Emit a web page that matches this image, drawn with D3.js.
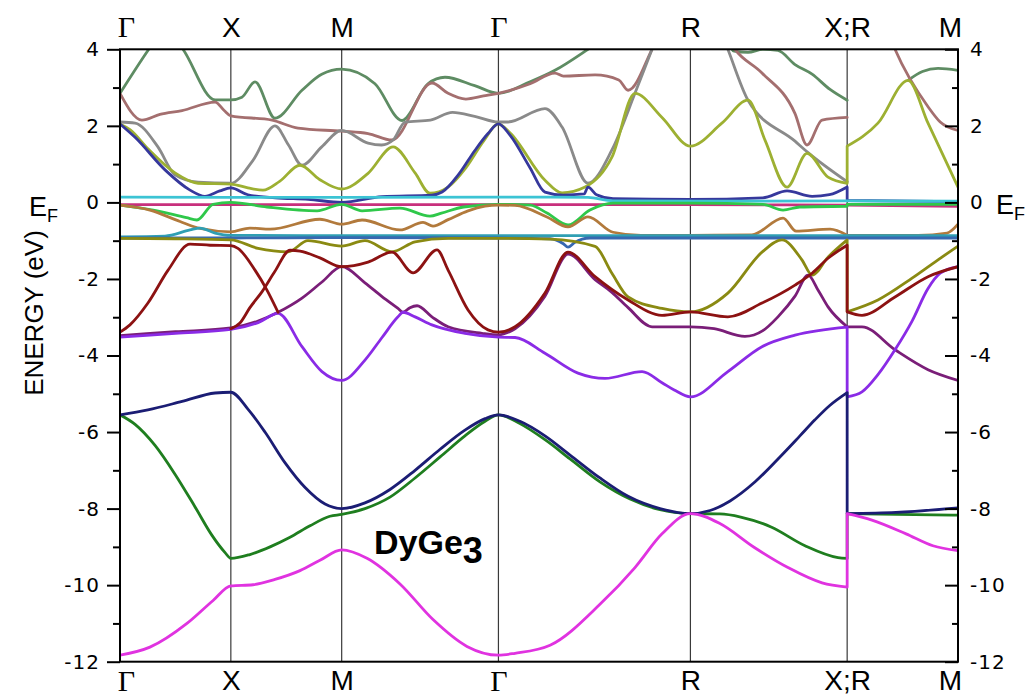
<!DOCTYPE html>
<html><head><meta charset="utf-8">
<script src="https://cdn.jsdelivr.net/npm/d3@7"></script>
<style>body{margin:0;background:#fff}svg{display:block}</style>
</head><body><svg id="c" width="1031" height="696"></svg>
<script>
// ---- data ----
const kPointLabels = ["Γ","X","M","Γ","R","X;R","M"];
const kPointPositions = [0, 0.5, 1.0, 1.7071, 2.5731, 3.2802, 3.7802];
const energyMajorTicks = [4,2,0,-2,-4,-6,-8,-10,-12];
const energyMinorTicks = [3,1,-1,-3,-5,-7,-9,-11];
const compoundName = "DyGe";
const compoundSub = "3";

const bandMagenta = [[0,-11.83],[0.135,-11.62],[0.302,-11.0],[0.420,-10.4],[0.5,-10.02],[0.600,-9.99],[0.699,-9.85],[0.812,-9.62],[0.902,-9.35],[1.0,-9.08],[1.114,-9.3],[1.263,-9.97],[1.412,-10.9],[1.565,-11.6],[1.7071,-11.83],[1.782,-11.78],[1.940,-11.57],[2.165,-10.5],[2.323,-9.54],[2.445,-8.66],[2.5731,-8.13],[2.706,-8.39],[2.860,-9.01],[3.013,-9.54],[3.167,-9.94],[3.2802,-10.05],[3.2802,-8.13],[3.392,-8.3],[3.546,-8.66],[3.667,-8.97],[3.7802,-9.1]];
const bandGreenDark = [[0,-5.55],[0.068,-5.8],[0.158,-6.35],[0.248,-7.1],[0.338,-7.95],[0.415,-8.7],[0.474,-9.15],[0.5,-9.3],[0.586,-9.2],[0.677,-9.0],[0.767,-8.75],[0.857,-8.45],[0.947,-8.2],[1.0,-8.15],[1.105,-8.0],[1.218,-7.7],[1.331,-7.2],[1.444,-6.65],[1.556,-6.1],[1.647,-5.72],[1.7071,-5.55],[1.804,-5.78],[1.917,-6.2],[2.030,-6.7],[2.165,-7.3],[2.301,-7.75],[2.436,-8.03],[2.5731,-8.13],[2.706,-8.14],[2.8,-8.22],[2.937,-8.48],[3.090,-8.97],[3.239,-9.28],[3.2802,-9.3],[3.2802,-8.13],[3.5,-8.15],[3.7802,-8.17]];
const bandNavy = [[0,-5.55],[0.126,-5.42],[0.280,-5.2],[0.429,-4.98],[0.5,-4.96],[0.577,-5.4],[0.654,-6.0],[0.744,-6.8],[0.835,-7.45],[0.925,-7.88],[1.0,-8.0],[1.105,-7.85],[1.218,-7.5],[1.331,-7.0],[1.444,-6.45],[1.556,-5.95],[1.647,-5.65],[1.7071,-5.55],[1.804,-5.72],[1.917,-6.1],[2.030,-6.6],[2.165,-7.2],[2.292,-7.68],[2.436,-8.0],[2.5731,-8.13],[2.662,-8.05],[2.752,-7.8],[2.865,-7.3],[2.977,-6.65],[3.067,-6.1],[3.135,-5.68],[3.203,-5.3],[3.2802,-4.97],[3.2802,-8.13],[3.5,-8.1],[3.7802,-7.98]];
const bandViolet = [[0,-3.52],[0.25,-3.42],[0.5,-3.32],[0.623,-3.14],[0.713,-2.9],[0.821,-3.77],[0.911,-4.42],[1.0,-4.65],[1.105,-4.12],[1.182,-3.53],[1.254,-2.99],[1.277,-2.87],[1.331,-2.99],[1.407,-3.2],[1.556,-3.42],[1.7071,-3.52],[1.782,-3.53],[1.917,-3.94],[2.066,-4.46],[2.188,-4.6],[2.355,-4.42],[2.445,-4.71],[2.5,-4.9],[2.5731,-5.08],[2.742,-4.42],[2.896,-3.77],[3.045,-3.47],[3.2802,-3.26],[3.2802,-5.08],[3.347,-4.95],[3.419,-4.5],[3.496,-3.85],[3.573,-3.1],[3.645,-2.25],[3.70,-1.85],[3.7802,-1.68]];
const bandDarkPurple = [[0,-3.48],[0.25,-3.38],[0.5,-3.28],[0.623,-3.1],[0.713,-2.87],[0.821,-2.5],[0.911,-2.08],[1.0,-1.68],[1.105,-2.1],[1.182,-2.46],[1.254,-2.77],[1.277,-2.87],[1.308,-2.75],[1.340,-2.7],[1.407,-2.99],[1.480,-3.25],[1.633,-3.42],[1.7071,-3.46],[1.782,-3.3],[1.917,-2.45],[2.021,-1.35],[2.143,-2.02],[2.219,-2.35],[2.292,-2.75],[2.400,-3.25],[2.5731,-3.25],[2.68,-3.3],[2.819,-3.5],[2.90,-3.35],[2.968,-2.99],[3.045,-2.45],[3.104,-1.9],[3.15,-2.3],[3.194,-2.73],[3.2802,-3.25],[3.2802,-3.25],[3.347,-3.25],[3.496,-3.85],[3.645,-4.37],[3.7802,-4.65]];
const bandDarkRedA = [[0,-3.39],[0.045,-3.2],[0.126,-2.63],[0.217,-1.77],[0.316,-1.09],[0.406,-1.12],[0.5,-1.13],[0.532,-1.2],[0.609,-1.77],[0.663,-2.29],[0.713,-2.87]];
const bandDarkRedB = [[0.5,-3.3],[0.541,-3.15],[0.586,-2.75],[0.641,-2.33],[0.699,-1.8],[0.767,-1.25],[0.812,-1.27],[0.902,-1.45],[1.0,-1.68],[1.119,-1.56],[1.227,-1.3],[1.322,-1.84],[1.430,-1.24],[1.480,-1.77],[1.570,-2.81],[1.660,-3.33],[1.7071,-3.39],[1.782,-3.25],[1.917,-2.37],[2.021,-1.3],[2.143,-1.94],[2.292,-2.55],[2.445,-2.95],[2.5731,-2.86],[2.742,-2.99],[2.896,-2.63],[3.045,-2.16],[3.122,-1.85],[3.194,-1.46],[3.2802,-1.12],[3.2802,-2.86],[3.347,-2.95],[3.496,-2.47],[3.645,-1.94],[3.7802,-1.68]];
const bandOliveDark = [[0,-0.94],[0.25,-0.95],[0.5,-0.98],[0.623,-1.2],[0.758,-1.29],[0.848,-1.0],[1.0,-1.14],[1.105,-1.0],[1.227,-1.29],[1.331,-1.03],[1.480,-0.94],[1.7071,-0.94],[1.94,-0.96],[2.143,-1.15],[2.219,-1.85],[2.292,-2.47],[2.445,-2.77],[2.5731,-2.86],[2.742,-2.37],[2.896,-1.3],[2.986,-0.98],[3.076,-1.5],[3.122,-1.9],[3.194,-1.43],[3.2802,-0.98],[3.2802,-2.86],[3.419,-2.55],[3.573,-1.98],[3.690,-1.5],[3.7802,-1.14]];
const bandTeal = [[0,-0.9],[0.203,-0.88],[0.316,-0.72],[0.361,-0.67],[0.429,-0.8],[0.5,-0.86],[1.0,-0.87],[1.7071,-0.87],[2.5731,-0.87],[3.2802,-0.87],[3.7802,-0.87]];
const bandBlueFlat = [[0,-0.93],[0.5,-0.93],[1.0,-0.92],[1.7071,-0.93],[1.94,-0.95],[2.0,-1.08],[2.021,-1.17],[2.05,-1.05],[2.12,-0.93],[2.5731,-0.93],[3.2802,-0.93],[3.7802,-0.93]];
const bandBrown = [[0,-0.07],[0.135,-0.2],[0.271,-0.5],[0.361,-0.68],[0.5,-0.77],[0.586,-0.67],[0.677,-0.7],[0.902,-0.44],[1.0,-0.57],[1.092,-0.46],[1.263,-0.72],[1.367,-0.52],[1.412,-0.62],[1.480,-0.45],[1.57,-0.22],[1.647,-0.1],[1.7071,-0.07],[1.782,-0.08],[1.926,-0.38],[2.021,-0.64],[2.111,-0.38],[2.224,-0.78],[2.35,-0.86],[2.5731,-0.86],[2.85,-0.85],[2.991,-0.41],[3.05,-0.75],[3.203,-0.7],[3.2802,-0.86],[3.2802,-0.86],[3.6,-0.86],[3.731,-0.8],[3.7802,-0.57]];
const bandGreenBright = [[0,-0.07],[0.15,-0.2],[0.30,-0.4],[0.347,-0.46],[0.42,-0.05],[0.5,0.0],[0.663,-0.12],[0.889,-0.22],[1.0,-0.05],[1.092,-0.22],[1.263,-0.15],[1.398,-0.36],[1.45,-0.28],[1.55,-0.12],[1.7071,-0.05],[1.850,-0.07],[1.926,-0.28],[2.021,-0.59],[2.120,-0.2],[2.224,-0.02],[2.5731,-0.02],[2.9,-0.05],[2.991,-0.2],[3.067,-0.12],[3.2802,-0.1],[3.2802,-0.05],[3.7802,-0.05]];
const bandPink = [[0,-0.06],[0.5,-0.06],[1.0,-0.06],[1.7071,-0.06],[2.5731,-0.06],[3.2802,-0.07],[3.7802,-0.1]];
const bandCyan = [[0,0.14],[0.5,0.13],[1.0,0.13],[1.7071,0.14],[1.94,0.14],[2.111,0.13],[2.224,0.04],[2.5731,0.03],[3.2802,0.04],[3.7802,0.03]];
const bandBlueCond = [[0,2.05],[0.068,1.7],[0.203,0.85],[0.316,0.32],[0.383,0.16],[0.45,0.3],[0.5,0.38],[0.577,0.2],[0.7,0.12],[0.85,0.08],[1.0,0.0],[1.182,0.15],[1.407,0.19],[1.453,0.27],[1.53,0.75],[1.6,1.35],[1.66,1.8],[1.7071,2.05],[1.76,1.75],[1.85,0.9],[1.917,0.27],[2.0,0.19],[2.094,0.22],[2.111,0.4],[2.15,0.2],[2.224,0.1],[2.5731,0.08],[2.9,0.12],[3.009,0.3],[3.122,0.16],[3.2,0.2],[3.2802,0.4],[3.2802,0.05],[3.7802,0.02]];
const bandOliveYellow = [[0,2.05],[0.045,1.9],[0.126,1.4],[0.248,0.77],[0.352,0.5],[0.5,0.48],[0.577,0.38],[0.645,0.32],[0.72,0.55],[0.812,0.97],[0.9,0.6],[1.0,0.35],[1.119,0.76],[1.232,1.45],[1.331,0.77],[1.398,0.24],[1.480,0.4],[1.56,0.9],[1.64,1.6],[1.7071,2.05],[1.76,1.81],[1.917,0.58],[1.994,0.25],[2.098,0.4],[2.219,1.18],[2.323,2.85],[2.445,2.22],[2.5731,1.47],[2.715,2.07],[2.833,2.67],[2.910,1.62],[3.009,0.4],[3.099,1.28],[3.194,0.66],[3.2802,0.5],[3.2802,1.47],[3.419,2.07],[3.555,3.19],[3.645,2.07],[3.7802,0.4]];
const bandGray = [[0,2.1],[0.068,2.07],[0.171,1.45],[0.248,0.72],[0.352,0.53],[0.5,0.5],[0.6,1.1],[0.699,2.0],[0.76,1.5],[0.821,0.97],[0.91,1.45],[1.0,1.88],[1.119,1.55],[1.18,1.5],[1.232,1.63],[1.286,2.1],[1.40,2.15],[1.5,2.35],[1.6,2.25],[1.7071,2.1],[1.75,2.1],[1.917,2.45],[1.994,1.97],[2.111,0.5],[2.219,1.37],[2.323,2.85],[2.400,4.0],[2.5731,6.5],[2.742,4.0],[2.833,2.67],[3.045,1.6],[3.104,1.3],[3.2802,0.54]];
const bandRosy = [[0,2.85],[0.099,2.15],[0.18,2.3],[0.280,2.4],[0.429,2.62],[0.47,2.4],[0.5,2.26],[0.686,2.15],[0.803,1.94],[1.0,1.86],[1.119,1.8],[1.227,1.63],[1.407,3.12],[1.48,2.85],[1.56,2.7],[1.64,2.78],[1.7071,2.85],[1.85,3.1],[1.962,3.38],[2.0,3.3],[2.143,3.33],[2.25,3.2],[2.292,2.93],[2.40,4.0],[2.5731,6.5],[2.774,4.0],[2.896,3.38],[3.045,2.32],[3.099,1.5],[3.167,2.15],[3.2802,2.22]];
const bandRosyRM = [[3.40,5.5],[3.496,4.0],[3.645,2.5],[3.70,2.1],[3.7802,1.88]];
const bandSeaGreen = [[0,2.85],[0.126,3.97],[0.203,4.6],[0.284,4.0],[0.429,2.68],[0.5,2.68],[0.55,2.75],[0.609,3.15],[0.699,2.2],[0.821,2.93],[0.91,3.35],[1.0,3.48],[1.150,3.1],[1.272,2.14],[1.389,3.1],[1.466,3.27],[1.6,3.05],[1.7071,2.85],[1.85,3.15],[1.962,3.45],[2.111,4.0],[2.35,5.0],[2.70,4.6],[2.77,3.95],[2.833,3.92],[2.90,4.0],[2.968,3.97],[3.045,3.6],[3.122,3.35],[3.203,2.95],[3.2802,2.67]];
const bandSeaGreenRM = [[3.555,3.19],[3.62,3.42],[3.690,3.5],[3.7802,3.45]];

const bands = [
  {pts: bandSeaGreen, color: "#5e8c63"},
  {pts: bandSeaGreenRM, color: "#5e8c63"},
  {pts: bandRosy, color: "#a46f6f"},
  {pts: bandRosyRM, color: "#a46f6f"},
  {pts: bandGray, color: "#8a8a8a"},
  {pts: bandOliveYellow, color: "#9db032"},
  {pts: bandBlueCond, color: "#36389c"},
  {pts: bandCyan, color: "#3cc4d4"},
  {pts: bandPink, color: "#c8307c"},
  {pts: bandGreenBright, color: "#2fc84a"},
  {pts: bandBrown, color: "#b27a3c"},
  {pts: bandTeal, color: "#2f9fb3"},
  {pts: bandBlueFlat, color: "#3768b0"},
  {pts: bandOliveDark, color: "#8a8a12"},
  {pts: bandDarkPurple, color: "#7a1e78"},
  {pts: bandViolet, color: "#8a2be6"},
  {pts: bandDarkRedA, color: "#8c1212"},
  {pts: bandDarkRedB, color: "#8c1212"},
  {pts: bandGreenDark, color: "#1f7e1f"},
  {pts: bandNavy, color: "#1b1d74"},
  {pts: bandMagenta, color: "#e033e0"}
];

// ---- layout ----
const svg = d3.select("#c");
const L = 120, R = 958, T = 49.3, B = 661.7;
const x = d3.scaleLinear().domain([0, 3.7802]).range([L, R]);
const y = d3.scaleLinear().domain([-12, 4]).range([B, T]);
const SANS = "'Liberation Sans', Arial, sans-serif";
const SERIF = "'Liberation Serif', 'Times New Roman', serif";
const TICKFONT = "'DejaVu Sans', 'Liberation Sans', sans-serif";

svg.append("defs").append("clipPath").attr("id","plot")
  .append("rect").attr("x",L).attr("y",T).attr("width",R-L).attr("height",B-T);

// vertical k-point lines
svg.append("g").selectAll("line").data(kPointPositions.slice(1,-1)).join("line")
  .attr("x1",d=>x(d)).attr("x2",d=>x(d)).attr("y1",T).attr("y2",B)
  .attr("stroke","#3a3a3a").attr("stroke-width",1.2);

// bands
const line = d3.line().x(d=>x(d[0])).y(d=>y(d[1])).curve(d3.curveMonotoneX);
function bandPath(pts){
  const runs=[]; let cur=[pts[0]];
  for(let i=1;i<pts.length;i++){
    if(pts[i][0]===pts[i-1][0]){ runs.push(cur); cur=[pts[i]]; }
    else cur.push(pts[i]);
  }
  runs.push(cur);
  let d="";
  runs.forEach((r,i)=>{
    let s = r.length>1 ? line(r) : `M${x(r[0][0])},${y(r[0][1])}`;
    if(i>0) s = "L"+s.slice(1);
    d+=s;
  });
  return d;
}
svg.append("g").attr("clip-path","url(#plot)").selectAll("path").data(bands).join("path")
  .attr("d",b=>bandPath(b.pts)).attr("fill","none").attr("stroke",b=>b.color)
  .attr("stroke-width",2.8).attr("stroke-linejoin","round").attr("stroke-linecap","round");

// axes
const axL = svg.append("g").attr("transform",`translate(${L},0)`)
  .call(d3.axisLeft(y).tickValues(energyMajorTicks).tickSize(13).tickPadding(7).tickFormat(d=>String(d)));
const axLm = svg.append("g").attr("transform",`translate(${L},0)`)
  .call(d3.axisLeft(y).tickValues(energyMinorTicks).tickSize(7).tickFormat(""));
const axR = svg.append("g").attr("transform",`translate(${R},0)`)
  .call(d3.axisRight(y).tickValues(energyMajorTicks).tickSize(-13).tickPadding(12).tickFormat(d=>String(d)));
const axRm = svg.append("g").attr("transform",`translate(${R},0)`)
  .call(d3.axisRight(y).tickValues(energyMinorTicks).tickSize(-6).tickFormat(""));
[axL,axLm,axR,axRm].forEach(g=>{
  g.select(".domain").remove();
  g.selectAll(".tick line").attr("stroke","#000").attr("stroke-width",2);
  g.selectAll("text").attr("font-family",TICKFONT).attr("font-size",20).attr("letter-spacing",1).attr("fill","#000");
});

const axT = svg.append("g").attr("transform",`translate(0,${T})`)
  .call(d3.axisTop(x).tickValues(kPointPositions).tickSize(0).tickPadding(12).tickFormat((d,i)=>kPointLabels[i]));
const axB = svg.append("g").attr("transform",`translate(0,${B})`)
  .call(d3.axisBottom(x).tickValues(kPointPositions).tickSize(0).tickPadding(8).tickFormat((d,i)=>kPointLabels[i]));
const lastK = kPointLabels.length - 1;
[axT,axB].forEach(g=>{
  g.select(".domain").remove();
  g.selectAll("text").attr("font-size",(d,i)=>kPointLabels[i]==="Γ"?30:28)
    .attr("font-family",(d,i)=>kPointLabels[i]==="Γ"?SERIF:SANS).attr("fill","#000")
    .attr("dx",(d,i)=> i===0 ? 6 : (i===lastK ? -8 : 0));
});

// frame
svg.append("rect").attr("x",L).attr("y",T).attr("width",R-L).attr("height",B-T)
  .attr("fill","none").attr("stroke","#000").attr("stroke-width",2);

// E_F labels
function ef(xp, yb){
  const t = svg.append("text").attr("x",xp).attr("y",yb).attr("font-family",SANS).attr("font-size",27).attr("fill","#000");
  t.append("tspan").text("E");
  t.append("tspan").attr("font-size",18).attr("dy",6).text("F");
}
ef(29, 216);
ef(996, 214);

// y title
svg.append("text").attr("transform","translate(43,313) rotate(-90)").attr("text-anchor","middle")
  .attr("font-family",SANS).attr("font-size",26).attr("fill","#000").text("ENERGY (eV)");

// compound label
const ct = svg.append("text").attr("x",374).attr("y",554).attr("font-family",SANS)
  .attr("font-weight","bold").attr("font-size",34).attr("fill","#000");
ct.append("tspan").text(compoundName);
ct.append("tspan").attr("dy",9).attr("font-size",36).text(compoundSub);
</script></body></html>
